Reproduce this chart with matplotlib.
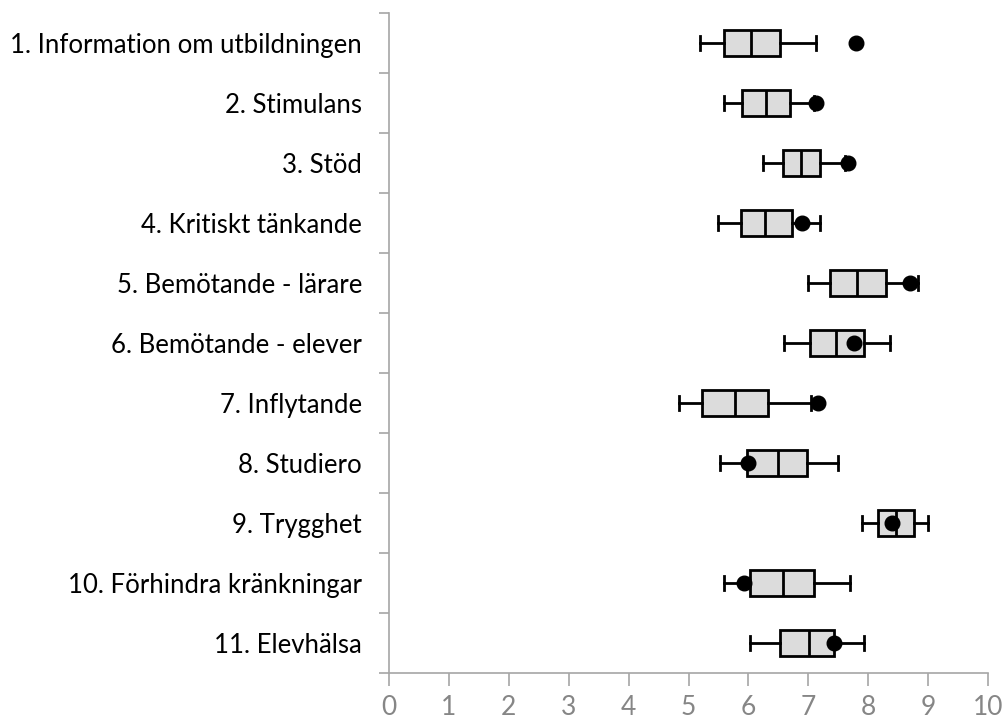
import numpy as np
import matplotlib
matplotlib.use("Agg")
import matplotlib.pyplot as plt

labels = ["1. Information om utbildningen", "2. Stimulans", "3. Stöd",
          "4. Kritiskt tänkande", "5. Bemötande - lärare",
          "6. Bemötande - elever", "7. Inflytande", "8. Studiero",
          "9. Trygghet", "10. Förhindra kränkningar", "11. Elevhälsa"]
whis_lo = [5.20, 5.60, 6.24, 5.50, 7.00, 6.60, 4.84, 5.53, 7.90, 5.60, 6.03]
q1 = [5.60, 5.90, 6.57, 5.87, 7.36, 7.03, 5.23, 5.97, 8.16, 6.03, 6.53]
median = [6.04, 6.30, 6.87, 6.27, 7.81, 7.47, 5.77, 6.50, 8.46, 6.57, 7.01]
q3 = [6.53, 6.70, 7.20, 6.73, 8.30, 7.93, 6.33, 6.97, 8.77, 7.10, 7.43]
whis_hi = [7.13, 7.10, 7.62, 7.20, 8.83, 8.36, 7.04, 7.50, 9.00, 7.70, 7.93]
dots = [7.80, 7.13, 7.66, 6.90, 8.70, 7.76, 7.16, 6.00, 8.40, 5.93, 7.43]

grey = "#a6a6a6"

dpi = 100
fig = plt.figure(figsize=(1006 / dpi, 723 / dpi), dpi=dpi)
ax = fig.add_axes([389 / 1006, 1 - 673 / 723, (988 - 389) / 1006, (673 - 13) / 723])

pos = np.arange(len(labels))
stats = []
for i in range(len(labels)):
    stats.append(dict(whislo=whis_lo[i], q1=q1[i], med=median[i],
                      q3=q3[i], whishi=whis_hi[i], fliers=[]))

ax.bxp(stats, positions=pos, vert=False, widths=0.44, patch_artist=True,
       showfliers=False, capwidths=0.22,
       boxprops=dict(facecolor="#dcdcdc", edgecolor="black", linewidth=2),
       medianprops=dict(color="black", linewidth=2),
       whiskerprops=dict(color="black", linewidth=2),
       capprops=dict(color="black", linewidth=2))
ax.plot(dots, pos, "o", color="black", markersize=10.5, zorder=5)

ax.set_xlim(0, 10)
ax.set_ylim(len(labels) - 0.5, -0.5)
ax.set_xticks(range(0, 11))
ax.set_yticks(pos)
ax.set_yticklabels(labels, fontsize=18.5, family="Lato")
ax.set_yticks(np.arange(-0.5, len(labels)), minor=True)
ax.tick_params(axis="y", which="major", length=0, pad=19.5)
ax.tick_params(axis="y", which="minor", length=7, color=grey, width=1.2)
ax.tick_params(axis="x", length=9, color=grey, width=1.2, labelcolor="#868686",
               labelsize=19, pad=7)
for t in ax.get_xticklabels():
    t.set_family("Lato")

for side in ["top", "right"]:
    ax.spines[side].set_visible(False)
for side in ["left", "bottom"]:
    ax.spines[side].set_color(grey)
    ax.spines[side].set_linewidth(1.2)

fig.savefig("out.png", dpi=dpi)
